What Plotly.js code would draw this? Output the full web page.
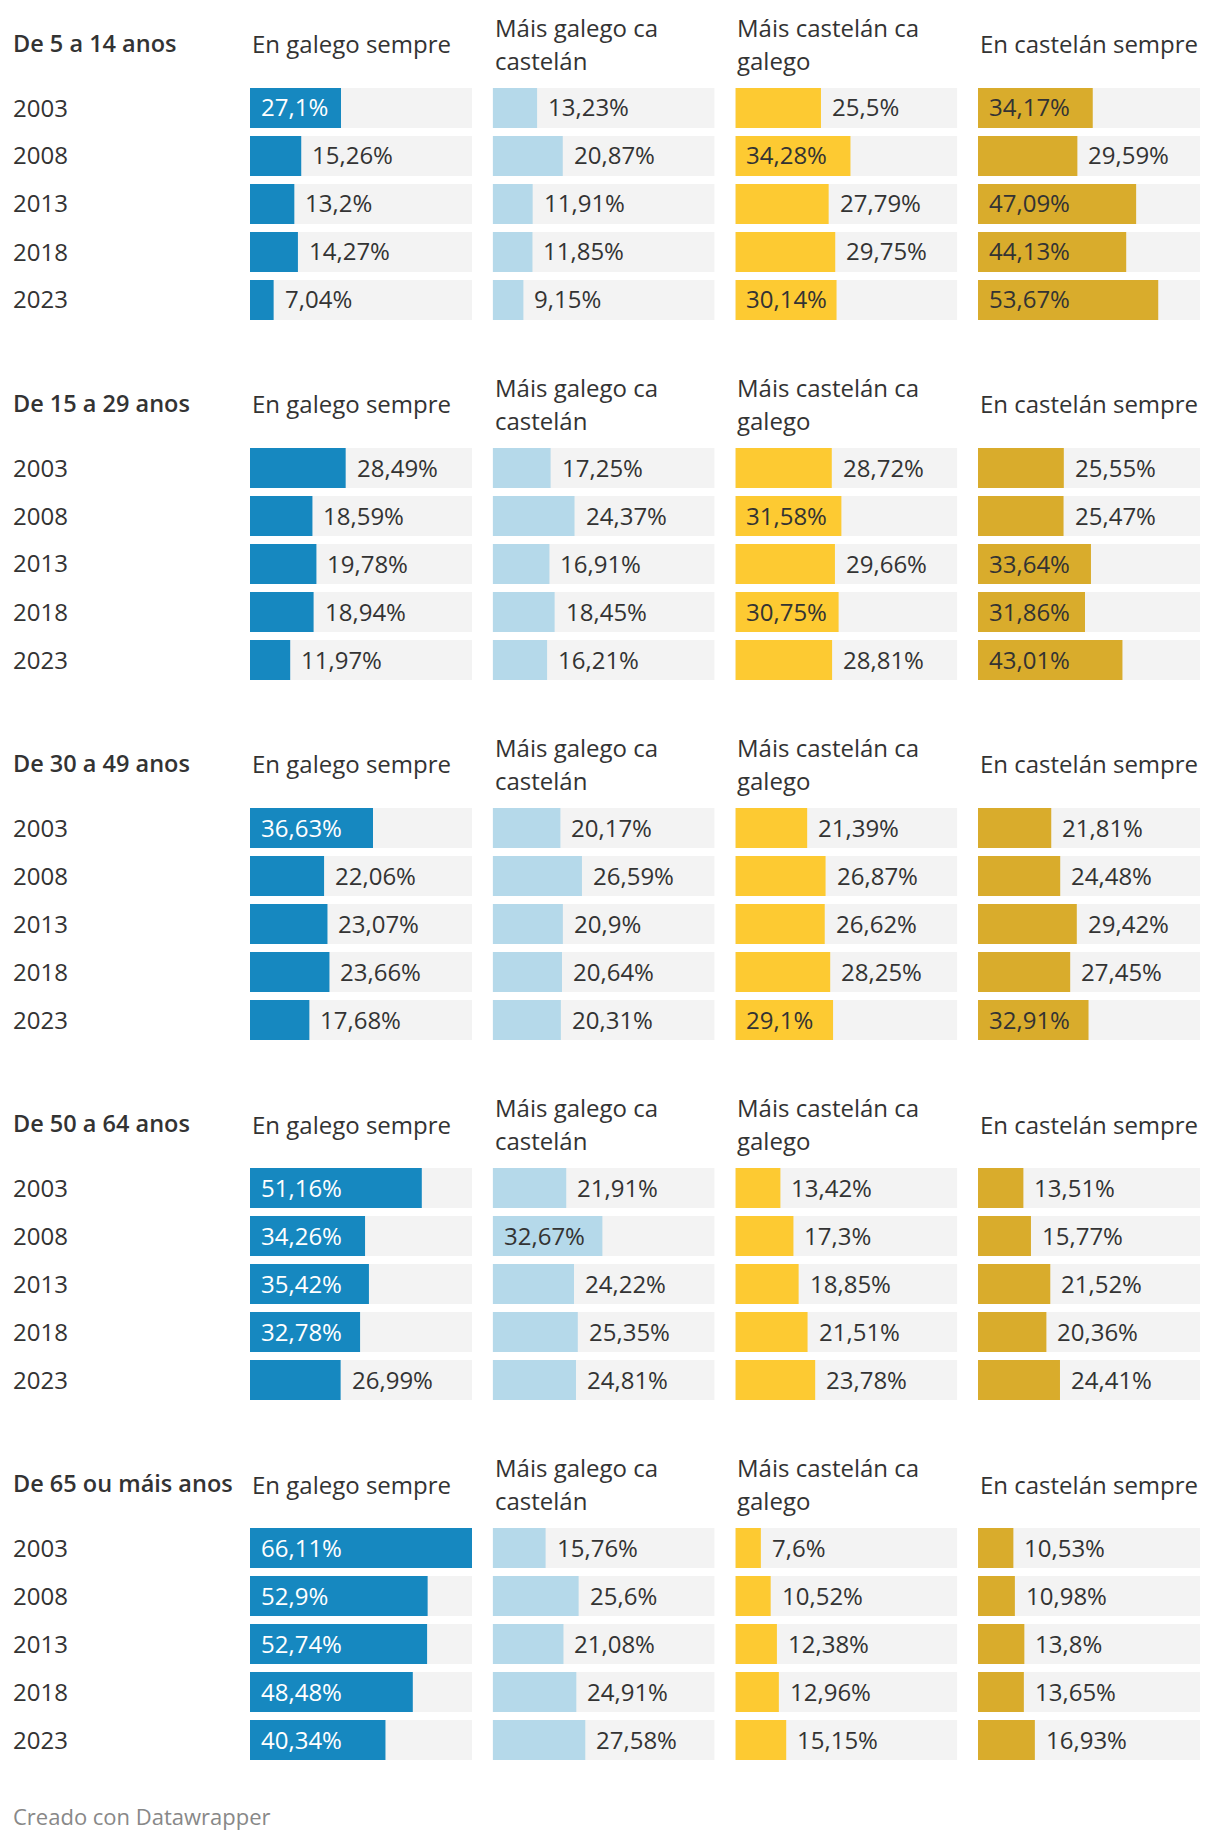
<!DOCTYPE html>
<html>
<head>
<meta charset="utf-8">
<script src="https://cdn.plot.ly/plotly-3.0.1.min.js"></script>
<style>
  html, body { margin: 0; padding: 0; background: #ffffff; }
  #chart { width: 1220px; height: 1840px; }
</style>
</head>
<body>
<div id="chart"></div>
<script>
// ---------- DATA ----------
const years = ['2003', '2008', '2013', '2018', '2023'];
const ageGroups = ['De 5 a 14 anos', 'De 15 a 29 anos', 'De 30 a 49 anos', 'De 50 a 64 anos', 'De 65 ou máis anos'];
const categories = ['En galego sempre', 'Máis galego ca castelán', 'Máis castelán ca galego', 'En castelán sempre'];
const headerLines = [['En galego sempre'], ['Máis galego ca', 'castelán'], ['Máis castelán ca', 'galego'], ['En castelán sempre']];

// values per age group (rows) and year (columns)
const enGalegoSempre = [
  [27.1, 15.26, 13.2, 14.27, 7.04],
  [28.49, 18.59, 19.78, 18.94, 11.97],
  [36.63, 22.06, 23.07, 23.66, 17.68],
  [51.16, 34.26, 35.42, 32.78, 26.99],
  [66.11, 52.9, 52.74, 48.48, 40.34]
];
const maisGalegoCaCastelan = [
  [13.23, 20.87, 11.91, 11.85, 9.15],
  [17.25, 24.37, 16.91, 18.45, 16.21],
  [20.17, 26.59, 20.9, 20.64, 20.31],
  [21.91, 32.67, 24.22, 25.35, 24.81],
  [15.76, 25.6, 21.08, 24.91, 27.58]
];
const maisCastelanCaGalego = [
  [25.5, 34.28, 27.79, 29.75, 30.14],
  [28.72, 31.58, 29.66, 30.75, 28.81],
  [21.39, 26.87, 26.62, 28.25, 29.1],
  [13.42, 17.3, 18.85, 21.51, 23.78],
  [7.6, 10.52, 12.38, 12.96, 15.15]
];
const enCastelanSempre = [
  [34.17, 29.59, 47.09, 44.13, 53.67],
  [25.55, 25.47, 33.64, 31.86, 43.01],
  [21.81, 24.48, 29.42, 27.45, 32.91],
  [13.51, 15.77, 21.52, 20.36, 24.41],
  [10.53, 10.98, 13.8, 13.65, 16.93]
];
const series = [enGalegoSempre, maisGalegoCaCastelan, maisCastelanCaGalego, enCastelanSempre];
const footerText = 'Creado con Datawrapper';

// ---------- STYLE ----------
const W = 1220, H = 1840;
const FONT = '"Open Sans", "Noto Sans", sans-serif';
const barColors = ['#1688c0', '#b5d9ea', '#fdca32', '#d9ac2c'];
const insideTextColors = ['#ffffff', '#333333', '#333333', '#333333'];
const trackColor = '#f3f3f3';
const textColor = '#333333';
const colStart = 250, colW = 222, colStep = 242.67;
const sectionTop = 84, sectionStep = 360, rowStep = 48, barPx = 40;
const fontSize = 24;

const maxVal = Math.max(...series.flat(2));
const px = v => v / W;
const py = v => 1 - v / H;

const canvas = document.createElement('canvas');
const ctx = canvas.getContext('2d');
ctx.font = fontSize + 'px "Open Sans"';

const fmt = v => String(v).replace('.', ',') + '%';

const data = [];
const annotations = [];
const layout = {
  width: W, height: H,
  margin: {l: 0, r: 0, t: 0, b: 0},
  paper_bgcolor: '#ffffff', plot_bgcolor: 'rgba(0,0,0,0)',
  barmode: 'overlay',
  showlegend: false,
  font: {family: FONT, size: fontSize, color: textColor},
  annotations: annotations
};

// axes
for (let j = 0; j < categories.length; j++) {
  const key = 'xaxis' + (j === 0 ? '' : (j + 1));
  const x0 = colStart + j * colStep;
  layout[key] = {
    domain: [px(x0), px(x0 + colW)],
    range: [0, maxVal],
    visible: false, fixedrange: true,
    anchor: 'y'
  };
}
for (let k = 0; k < ageGroups.length; k++) {
  const key = 'yaxis' + (k === 0 ? '' : (k + 1));
  const top = sectionTop + k * sectionStep;
  const bottom = top + rowStep * years.length;
  layout[key] = {
    domain: [py(bottom), py(top)],
    type: 'category',
    categoryorder: 'array',
    categoryarray: years,
    range: [years.length - 0.5, -0.5],
    visible: false, fixedrange: true,
    anchor: 'x'
  };
}

const barWidth = barPx / rowStep;

for (let k = 0; k < ageGroups.length; k++) {
  const yref = 'y' + (k === 0 ? '' : (k + 1));
  const sTop = sectionTop + k * sectionStep;

  // section title
  annotations.push({
    xref: 'paper', yref: 'paper', x: px(11), y: py(sTop - 41),
    xanchor: 'left', yanchor: 'middle', showarrow: false,
    text: ageGroups[k],
    font: {family: FONT, size: 23.5, color: textColor, weight: 600}
  });

  // year labels
  years.forEach((yr, i) => {
    annotations.push({
      xref: 'paper', yref: 'paper', x: px(11), y: py(sTop + rowStep * i + rowStep / 2 - 1),
      xanchor: 'left', yanchor: 'middle', showarrow: false,
      text: yr, font: {family: FONT, size: fontSize, color: textColor}
    });
  });

  for (let j = 0; j < categories.length; j++) {
    const xref = 'x' + (j === 0 ? '' : (j + 1));
    const x0 = colStart + j * colStep;

    // column header
    const lines = headerLines[j];
    if (lines.length === 1) {
      annotations.push({
        xref: 'paper', yref: 'paper', x: px(x0), y: py(sTop - 40),
        xanchor: 'left', yanchor: 'middle', showarrow: false,
        text: lines[0], font: {family: FONT, size: fontSize, color: textColor}
      });
    } else {
      lines.forEach((ln, li) => {
        annotations.push({
          xref: 'paper', yref: 'paper', x: px(x0), y: py(sTop - 57 + li * 33),
          xanchor: 'left', yanchor: 'middle', showarrow: false,
          text: ln, font: {family: FONT, size: fontSize, color: textColor}
        });
      });
    }

    const vals = series[j][k];

    // background track
    data.push({
      type: 'bar', orientation: 'h',
      x: years.map(() => maxVal), y: years,
      xaxis: xref, yaxis: yref,
      width: barWidth,
      marker: {color: trackColor, line: {width: 0}},
      hoverinfo: 'skip'
    });
    // value bar
    data.push({
      type: 'bar', orientation: 'h',
      x: vals, y: years,
      xaxis: xref, yaxis: yref,
      width: barWidth,
      marker: {color: barColors[j], line: {width: 0}},
      hoverinfo: 'skip',
      name: categories[j]
    });

    // value labels
    vals.forEach((v, i) => {
      const label = fmt(v);
      const wLabel = ctx.measureText(label).width;
      const barLen = v / maxVal * colW;
      const inside = barLen >= wLabel + 19.5;
      annotations.push({
        xref: xref, yref: yref,
        x: inside ? 0 : v, y: i,
        xshift: 9, yshift: 1,
        xanchor: 'left', yanchor: 'middle', showarrow: false,
        text: label,
        font: {family: FONT, size: fontSize, color: inside ? insideTextColors[j] : textColor}
      });
    });
  }
}

// footer
annotations.push({
  xref: 'paper', yref: 'paper', x: px(11), y: py(1816),
  xanchor: 'left', yanchor: 'middle', showarrow: false,
  text: footerText, font: {family: FONT, size: 22, color: '#888888'}
});

Plotly.newPlot('chart', data, layout, {staticPlot: true, displayModeBar: false});
</script>
</body>
</html>
